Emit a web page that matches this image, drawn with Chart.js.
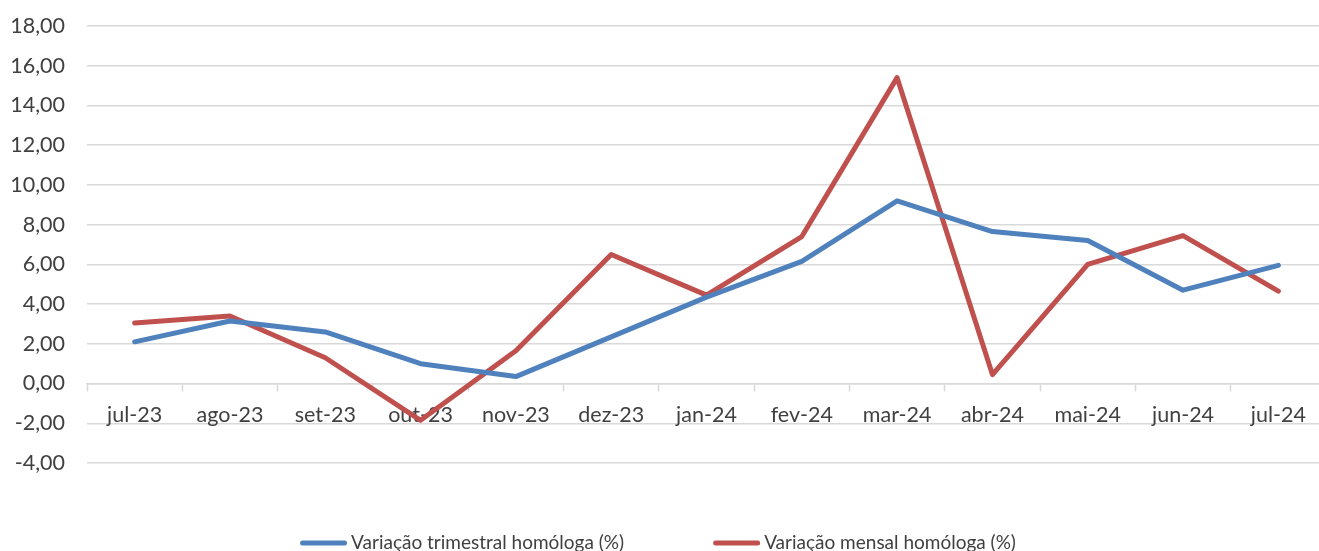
<!DOCTYPE html>
<html>
<head>
<meta charset="utf-8">
<script src="https://cdn.jsdelivr.net/npm/chart.js@4"></script>
<style>
  html, body { margin: 0; padding: 0; background: #fff; overflow: hidden; }
  #wrap { width: 1326px; height: 551px; }
</style>
</head>
<body>
<div id="wrap"><canvas id="myChart"></canvas></div>
<script>
// months shown on the x axis
const meses = ['jul-23', 'ago-23', 'set-23', 'out-23', 'nov-23', 'dez-23', 'jan-24',
  'fev-24', 'mar-24', 'abr-24', 'mai-24', 'jun-24', 'jul-24'];
// quarterly year-on-year change (%)
const trimestral = [2.1, 3.15, 2.6, 1.0, 0.35, 2.35, 4.35, 6.15, 9.2, 7.65, 7.2, 4.7, 5.95];
// monthly year-on-year change (%)
const mensal = [3.05, 3.4, 1.3, -1.85, 1.65, 6.5, 4.45, 7.4, 15.4, 0.45, 6.0, 7.45, 4.65];

const txt = '#404040';
const grade = '#d9d9d9';
const fonte = 'Lato';

// Excel-like legend: line samples with wide gaps, drawn under the axis
const legendaInferior = {
  id: 'legendaInferior',
  afterDraw(chart) {
    const c = chart.ctx;
    const y = 543;
    const amostra = 47, folga = 4, entre = 89;
    c.save();
    c.font = '19px ' + fonte;
    c.textBaseline = 'middle';
    const larguras = chart.data.datasets.map(ds => c.measureText(ds.label).width);
    let total = 0;
    larguras.forEach((w, i) => { total += amostra + folga + w + (i > 0 ? entre : 0); });
    let x = 658 - total / 2;
    chart.data.datasets.forEach((ds, i) => {
      c.strokeStyle = ds.borderColor;
      c.lineWidth = 5;
      c.lineCap = 'round';
      c.beginPath();
      c.moveTo(x + 2.5, y);
      c.lineTo(x + amostra - 2.5, y);
      c.stroke();
      c.fillStyle = txt;
      c.fillText(ds.label, x + amostra + folga, y);
      x += amostra + folga + larguras[i] + entre;
    });
    c.restore();
  }
};

document.addEventListener('DOMContentLoaded', function () {
  const ctx = document.getElementById('myChart').getContext('2d');
  const myChart = new Chart(ctx, {
    type: 'line',
    data: {
      labels: meses,
      datasets: [{
        label: 'Variação trimestral homóloga (%)',
        data: trimestral,
        borderColor: '#4f81bd',
        backgroundColor: '#4f81bd',
        borderWidth: 5,
        borderCapStyle: 'round',
        borderJoinStyle: 'round',
        pointRadius: 0,
        tension: 0
      }, {
        label: 'Variação mensal homóloga (%)',
        data: mensal,
        borderColor: '#c0504d',
        backgroundColor: '#c0504d',
        borderWidth: 5,
        borderCapStyle: 'round',
        borderJoinStyle: 'round',
        pointRadius: 0,
        tension: 0
      }]
    },
    options: {
      responsive: true,
      maintainAspectRatio: false,
      animation: false,
      layout: { padding: { top: 26, left: 0, right: 0, bottom: 88 } },
      scales: {
        x: {
          position: { y: 0 },
          offset: true,
          grid: {
            offset: true,
            drawOnChartArea: false,
            drawTicks: true,
            tickLength: 7,
            tickColor: grade,
            tickWidth: 1.5
          },
          border: { display: true, color: grade, width: 1.5 },
          ticks: {
            color: txt,
            padding: 12,
            maxRotation: 0,
            autoSkip: false,
            font: { family: fonte, size: 21.5 }
          }
        },
        y: {
          min: -4,
          max: 18,
          afterFit: s => { s.width = 87; s.paddingTop = 0; s.paddingBottom = 0; },
          grid: { color: grade, lineWidth: 1.5, drawTicks: false },
          border: { display: false },
          ticks: {
            stepSize: 2,
            color: txt,
            padding: 22,
            font: { family: fonte, size: 21.5 },
            callback: v => v.toFixed(2).replace('.', ',')
          }
        }
      },
      plugins: {
        legend: { display: false },
        tooltip: { enabled: false }
      }
    },
    plugins: [legendaInferior]
  });
});
</script>
</body>
</html>
